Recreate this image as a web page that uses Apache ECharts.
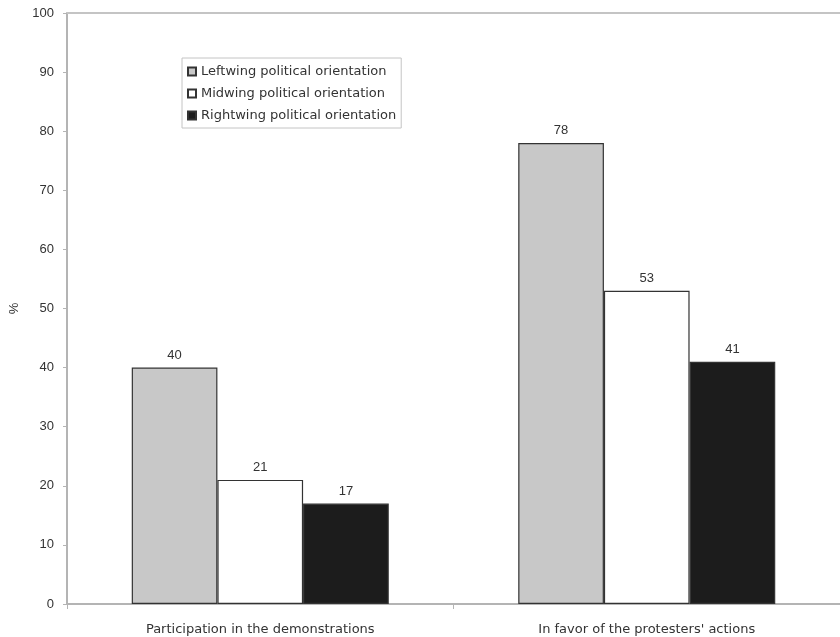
<!DOCTYPE html>
<html><head><meta charset="utf-8">
<script src="https://cdn.jsdelivr.net/npm/echarts@6/dist/echarts.min.js"></script>
<style>html,body{margin:0;padding:0;background:#fff}#c{width:840px;height:637px}</style>
</head><body><div id="c"></div>
<script>
const categories = ["Participation in the demonstrations", "In favor of the protesters' actions"];
const seriesNames = ["Leftwing political orientation", "Midwing political orientation", "Rightwing political orientation"];
const leftwing = [40, 78];
const midwing = [21, 53];
const rightwing = [17, 41];
const yTicks = [0, 10, 20, 30, 40, 50, 60, 70, 80, 90, 100];

const colors = ['#c8c8c8', '#ffffff', '#1c1c1c'];
const values = [leftwing, midwing, rightwing];
const font = 'Liberation Sans, Arial, sans-serif';
const wideFont = 'DejaVu Sans, Verdana, sans-serif';

const chart = echarts.init(document.getElementById('c'), null, {renderer: 'canvas'});
chart.setOption({
  animation: false,
  textStyle: {fontFamily: font},
  grid: {left: 63, right: -4, top: 13, bottom: 33, containLabel: false},
  legend: {
    orient: 'vertical', left: 182, top: 58, itemWidth: 8, itemHeight: 8, itemGap: 9,
    icon: 'rect', padding: [7, 5, 6, 5], borderColor: '#c4c4c4', borderWidth: 1,
    textStyle: {fontFamily: wideFont, fontSize: 13, color: '#333'},
    data: seriesNames
  },
  xAxis: [{
    type: 'category', data: categories,
    axisLine: {lineStyle: {color: '#b4b4b4', width: 2}},
    axisTick: {show: true, alignWithLabel: false, length: 5, lineStyle: {color: '#b4b4b4'}},
    axisLabel: {fontFamily: wideFont, fontSize: 13, color: '#333', margin: 19}
  }, {
    type: 'category', data: categories, position: 'top',
    axisLine: {show: true, lineStyle: {color: '#c4c4c4', width: 2}},
    axisTick: {show: false}, axisLabel: {show: false}
  }],
  yAxis: {
    type: 'value', min: 0, max: 100, interval: 10,
    name: '%', nameLocation: 'middle', nameGap: 46, nameRotate: 90,
    nameTextStyle: {fontFamily: font, fontSize: 13, color: '#333'},
    axisLine: {show: true, lineStyle: {color: '#b4b4b4', width: 2}},
    axisTick: {show: true, length: 4, lineStyle: {color: '#b4b4b4'}},
    splitLine: {show: false},
    axisLabel: {fontFamily: font, fontSize: 13, color: '#333', margin: 13,
      formatter: v => yTicks.includes(v) ? String(v) : ''}
  },
  series: seriesNames.map((n, i) => ({
    name: n, type: 'bar', data: values[i], barGap: '0%', barCategoryGap: '33.5%',
    itemStyle: {color: colors[i], borderColor: '#333333', borderWidth: 1.2},
    label: {show: true, position: 'top', distance: 6, fontFamily: font, fontSize: 13, color: '#333'}
  }))
});
</script></body></html>
